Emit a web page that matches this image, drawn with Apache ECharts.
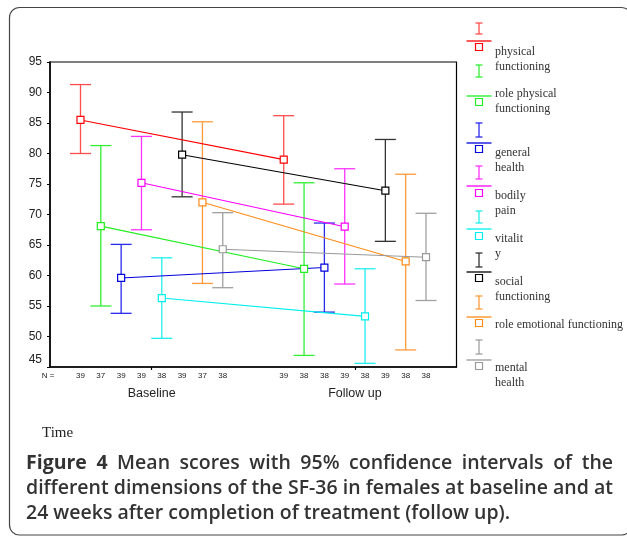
<!DOCTYPE html>
<html><head><meta charset="utf-8">
<script src="https://cdn.jsdelivr.net/npm/echarts@6/dist/echarts.min.js"></script>
<style>html,body{margin:0;padding:0;background:#fff}#c{width:627px;height:537px}</style>
</head><body><div id="c"></div><script>
// ---- data ----
const seriesNames = ['physical functioning','role physical functioning','general health','bodily pain','vitality','social functioning','role emotional functioning','mental health'];
const legendLabels = ['physical\nfunctioning','role physical\nfunctioning','general\nhealth','bodily\npain','vitalit\ny','social\nfunctioning','role emotional functioning','mental\nhealth'];
const nLabels = ['','39','37','39','39','38','39','37','38','','','39','38','38','39','38','39','38','38',''];
const timeLabels = ['Baseline','Follow up'];
const yTicks = {min:45, max:95, step:5};
const baseMean = [85.5,68.1,59.6,75.2,56.3,79.8,72.0,64.3];
const baseLow  = [80.0,55.0,53.8,67.5,49.7,72.9,58.7,58.0];
const baseHigh = [91.3,81.3,65.1,82.8,62.9,86.8,85.2,70.3];
const fuMean   = [79.0,61.1,61.3,68.0,53.3,73.9,62.3,63.0];
const fuLow    = [71.7,46.9,54.0,58.6,45.6,65.6,47.8,55.9];
const fuHigh   = [86.2,75.2,68.6,77.5,61.1,82.3,76.6,70.2];
const nPrefix = 'N =';
const axisTitle = 'Time';
const captionBold = 'Figure 4';
const captionLines = ['Mean scores with 95% confidence intervals of the','different dimensions of the SF-36 in females at baseline and at','24 weeks after completion of treatment (follow up).'];

// ---- styles / layout ----
const colors = ['#ff0000','#22ee22','#0000dd','#ff00ff','#00eeee','#000000','#ff8c1a','#999999'];
const barColors = ['#ff4d4d','#33ee33','#2a2aee','#ff33ff','#22eeee','#333333','#ff9a3a','#a0a0a0'];
const legendLayout = [
  {i:[23,34], line:41, sq:47, txt:52},
  {i:[65,77], line:96, sq:102, txt:94},
  {i:[123,137], line:143, sq:149, txt:153},
  {i:[166,179], line:186, sq:193, txt:196},
  {i:[211,223], line:229, sq:236, txt:239},
  {i:[253,267], line:272, sq:278, txt:282},
  {i:[296,309], line:317, sq:323, txt:325},
  {i:[340,354], line:360, sq:366, txt:368}
];
const baseSlot = i => 1 + i;            // category positions of baseline bars
const fuSlot = i => 11 + i;             // category positions of follow-up bars

const chart = echarts.init(document.getElementById('c'));
const sans = 'Liberation Sans, Arial, sans-serif';
const serif = 'Liberation Serif, Times New Roman, serif';

const series = [];
seriesNames.forEach((name, i) => {
  series.push({
    name: name, type: 'custom', z: 2,
    encode: {x: 0, y: [1, 2]},
    data: [[baseSlot(i), baseLow[i], baseHigh[i]], [fuSlot(i), fuLow[i], fuHigh[i]]],
    renderItem: (params, api) => {
      const x = api.value(0);
      const lo = api.coord([x, api.value(1)]);
      const hi = api.coord([x, api.value(2)]);
      const hw = 10.5;
      const st = {stroke: barColors[i], lineWidth: 1.3, fill: null};
      return {type: 'group', children: [
        {type: 'line', shape: {x1: lo[0], y1: hi[1], x2: lo[0], y2: lo[1]}, style: st},
        {type: 'line', shape: {x1: lo[0]-hw, y1: hi[1], x2: lo[0]+hw, y2: hi[1]}, style: st},
        {type: 'line', shape: {x1: lo[0]-hw, y1: lo[1], x2: lo[0]+hw, y2: lo[1]}, style: st}
      ]};
    }
  });
  series.push({
    name: name, type: 'line', z: 3,
    data: [[baseSlot(i), baseMean[i]], [fuSlot(i), fuMean[i]]],
    symbol: 'rect', symbolSize: 7,
    itemStyle: {color: '#fff', borderColor: colors[i], borderWidth: 1.2},
    lineStyle: {color: colors[i], width: 1.1},
    emphasis: {disabled: true}
  });
});

const graphics = [];
graphics.push({type: 'rect', shape: {x: 9.5, y: 7.5, width: 622, height: 527.5, r: 10},
  style: {fill: null, stroke: '#444', lineWidth: 1.2}, silent: true, z: -10});
legendLabels.forEach((lab, i) => {
  const L = legendLayout[i];
  const cx = 479, c = barColors[i];
  graphics.push({type: 'line', shape: {x1: cx, y1: L.i[0], x2: cx, y2: L.i[1]}, style: {stroke: c, lineWidth: 1.3}});
  graphics.push({type: 'line', shape: {x1: cx-3.5, y1: L.i[0], x2: cx+3.5, y2: L.i[0]}, style: {stroke: c, lineWidth: 1.3}});
  graphics.push({type: 'line', shape: {x1: cx-3.5, y1: L.i[1], x2: cx+3.5, y2: L.i[1]}, style: {stroke: c, lineWidth: 1.3}});
  graphics.push({type: 'line', shape: {x1: 466.5, y1: L.line, x2: 491.5, y2: L.line}, style: {stroke: colors[i], lineWidth: 1.3}});
  graphics.push({type: 'rect', shape: {x: cx-3.5, y: L.sq-3.5, width: 7, height: 7}, style: {fill: '#fff', stroke: colors[i], lineWidth: 1.2}});
  graphics.push({type: 'text', x: 495, y: L.txt - 7, style: {text: lab, font: '12px ' + serif, fill: '#333', lineHeight: 14.5, verticalAlign: 'top'}});
});
graphics.push({type: 'text', x: 48, y: 375.5, style: {text: nPrefix, font: '8px ' + sans, fill: '#222', align: 'center', verticalAlign: 'middle'}});
graphics.push({type: 'text', x: 42, y: 433, style: {text: axisTitle, font: '15px ' + serif, fill: '#222', verticalAlign: 'middle'}});

// caption, justified like the reference (lines 1 and 2)
const capX0 = 26, capX1 = 613, capY0 = 463, capDy = 25;
const fontB = 'bold 19.5px "Open Sans"', fontN = '600 19.5px "Open Sans"';
const mctx = document.createElement('canvas').getContext('2d');
function measure(t, f) { mctx.font = f; return mctx.measureText(t).width; }
const capTokens = [
  captionBold.split(' ').map(t => ({t, f: fontB})).concat(captionLines[0].split(' ').map(t => ({t, f: fontN}))),
  captionLines[1].split(' ').map(t => ({t, f: fontN})),
  captionLines[2].split(' ').map(t => ({t, f: fontN}))
];
capTokens.forEach((toks, li) => {
  const widths = toks.map(o => measure(o.t, o.f));
  const sum = widths.reduce((a, b) => a + b, 0);
  const space = measure(' ', fontN);
  const gap = li < 2 ? (capX1 - capX0 - sum) / (toks.length - 1) : space;
  let x = capX0;
  toks.forEach((o, k) => {
    graphics.push({type: 'text', x: x, y: capY0 + capDy * li, style: {text: o.t, font: o.f, fill: '#333', verticalAlign: 'middle'}});
    x += widths[k] + gap;
  });
});

chart.setOption({
  animation: false,
  backgroundColor: '#fff',
  grid: {left: 50, right: 170.5, top: 62, bottom: 170, show: true, borderColor: '#000', borderWidth: 1.2, backgroundColor: 'transparent'},
  xAxis: [
    {type: 'category', data: nLabels, boundaryGap: true, position: 'bottom',
     axisLine: {lineStyle: {color: '#000', width: 1.5}}, axisTick: {show: false},
     axisLabel: {interval: 0, fontSize: 8, margin: 4.5, color: '#222', fontFamily: sans},
     splitLine: {show: false}},
    {type: 'category', data: timeLabels, boundaryGap: true, position: 'bottom', offset: 0,
     axisLine: {show: false},
     axisTick: {show: true, alignWithLabel: true, length: 3, lineStyle: {color: '#000', width: 1.2}},
     axisLabel: {interval: 0, fontSize: 12.5, margin: 20, color: '#222', fontFamily: sans},
     splitLine: {show: false}}
  ],
  yAxis: {type: 'value', min: yTicks.min, max: yTicks.max, interval: yTicks.step,
    axisLine: {show: true, lineStyle: {color: '#000', width: 1.5}},
    axisTick: {show: true, length: 3, lineStyle: {color: '#000'}},
    splitLine: {show: false},
    axisLabel: {fontSize: 12, margin: 8, color: '#222', fontFamily: sans,
      formatter: v => v === yTicks.min ? '{lo|' + v + '}' : String(v),
      rich: {lo: {fontSize: 12, color: '#222', fontFamily: sans, padding: [0, 0, 14, 0]}}}},
  series: series,
  graphic: graphics
});
</script></body></html>
